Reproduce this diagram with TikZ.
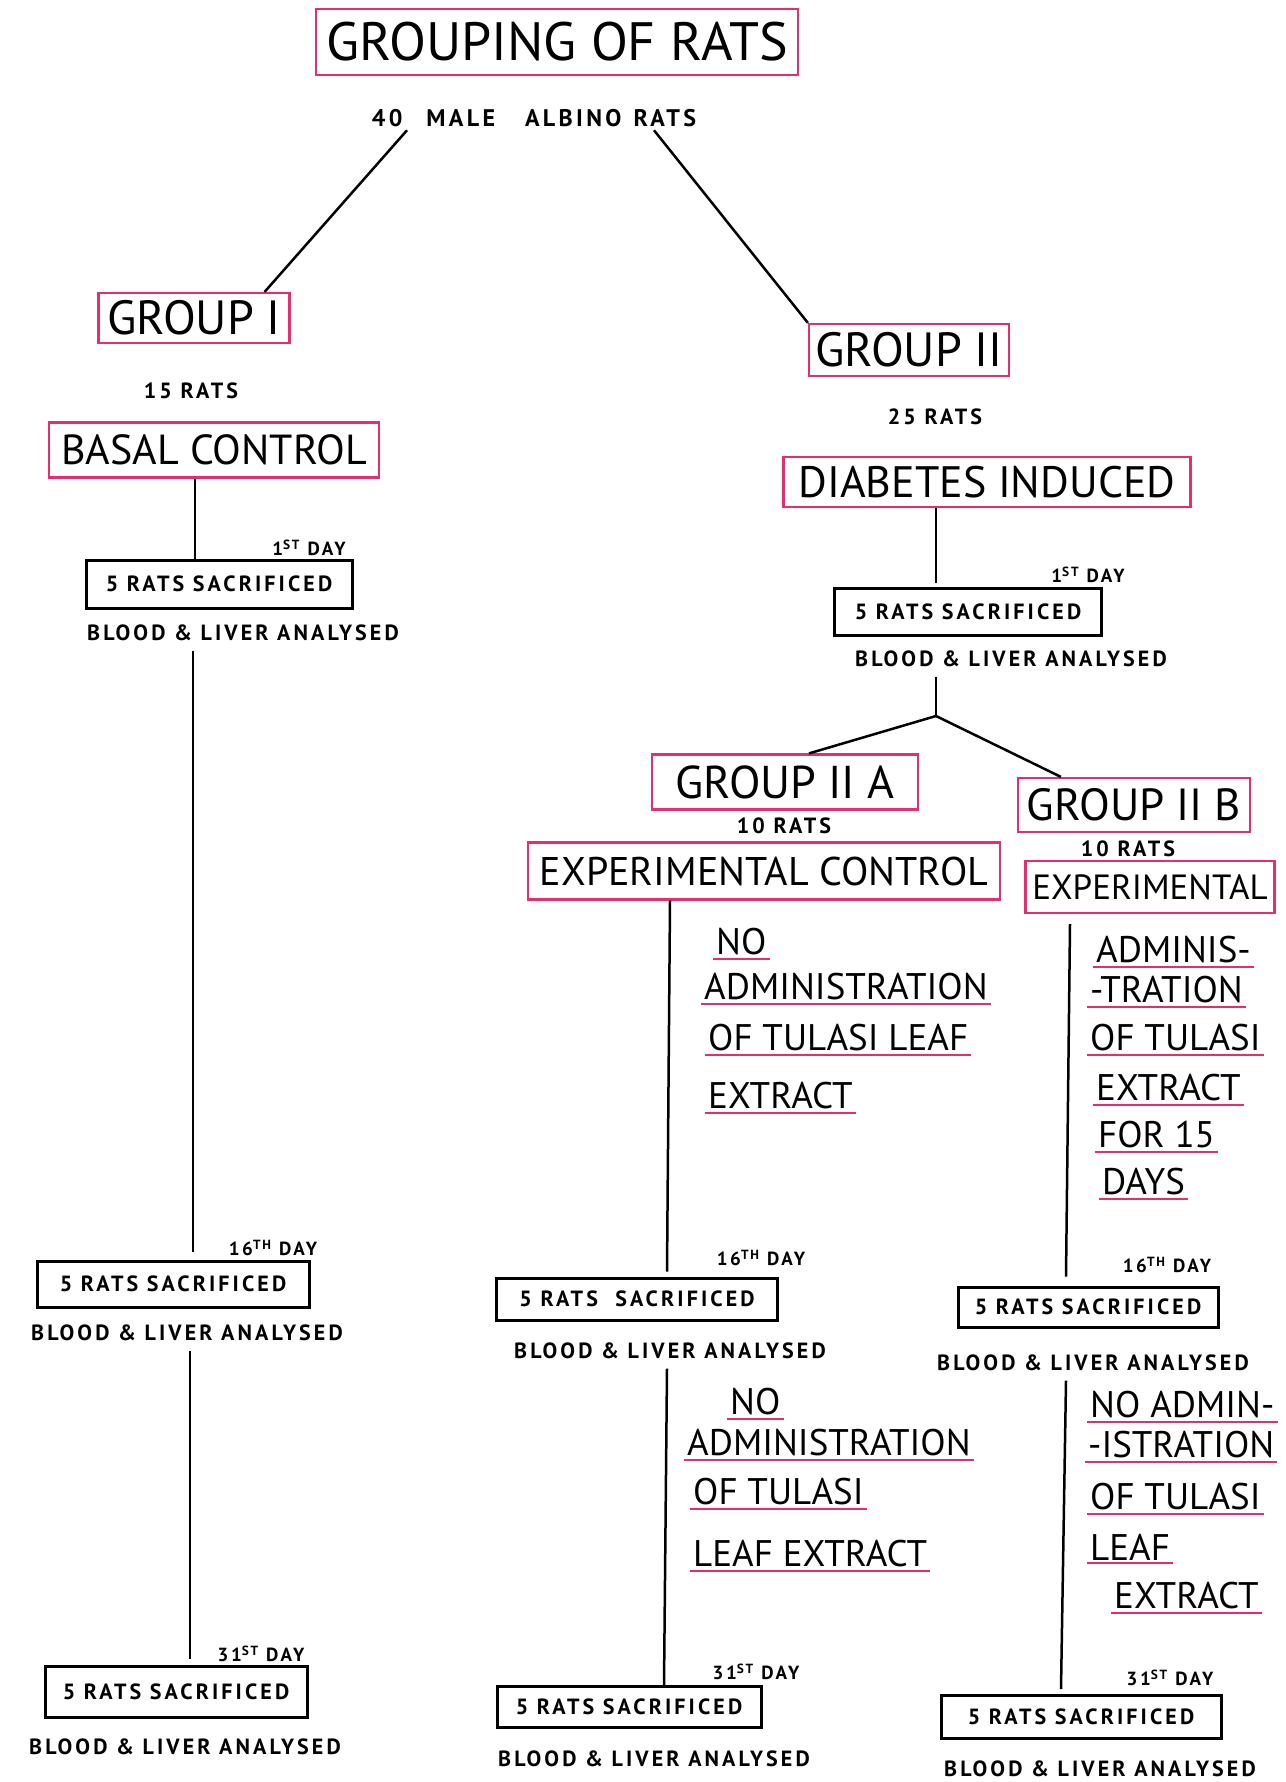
\documentclass[tikz,border=0pt]{standalone}
\usepackage{fontspec}
\setmainfont{PT Sans}
\newfontfamily\markfont{PT Sans}[LetterSpace=14]
\usetikzlibrary{positioning}
\definecolor{rosepink}{RGB}{230,45,110}

\begin{document}
\begin{tikzpicture}[x=1pt, y=-1pt,
    pinkbox/.style={draw=rosepink, line width=2.2pt, inner sep=0pt, font=\fontsize{42}{48}\selectfont},
    ratbox/.style={draw, line width=3pt, inner sep=0pt, font=\markfont\bfseries\fontsize{22}{26}\selectfont},
    note/.style={font=\markfont\bfseries\fontsize{22}{26}\selectfont},
    dayl/.style={font=\markfont\bfseries\fontsize{19}{22}\selectfont},
    uline/.style={anchor=west, inner sep=3pt, font=\fontsize{37}{42}\selectfont,
        append after command={(\tikzlastnode.south west) edge[draw=rosepink, line width=2pt] (\tikzlastnode.south east)}},
    link/.style={line width=2.5pt}]
    \useasboundingbox (0,0) rectangle (1285,1782);

    % Create main nodes
    \node[pinkbox, minimum width=482, minimum height=66, font=\fontsize{54}{60}\selectfont] (title) at (557,42) {GROUPING OF RATS};
    \node[note, font=\markfont\bfseries\fontsize{24}{28}\selectfont] (total) at (534,118) {40\hspace{24pt}MALE\hspace{30pt}ALBINO\hspace{12pt}RATS};

    % Group I
    \node[pinkbox, minimum width=191, minimum height=50, font=\fontsize{48}{54}\selectfont] (grpone) at (194,318) {GROUP I};
    \node[note] (nrone) at (191,391) {15 RATS};
    \node[pinkbox, minimum width=330, minimum height=55] (basal) at (214,450) {BASAL CONTROL};
    \node[dayl] (dayA1) at (309,548) {1\textsuperscript{ST} DAY};
    \node[ratbox, minimum width=266, minimum height=48] (sacA1) at (219,584) {5 RATS SACRIFICED};
    \node[note] (bloodA1) at (243,633) {BLOOD \& LIVER ANALYSED};
    \node[dayl] (dayA2) at (273,1248) {16\textsuperscript{TH} DAY};
    \node[ratbox, minimum width=272, minimum height=46] (sacA2) at (173,1284) {5 RATS SACRIFICED};
    \node[note] (bloodA2) at (187,1333) {BLOOD \& LIVER ANALYSED};
    \node[dayl] (dayA3) at (261,1654) {31\textsuperscript{ST} DAY};
    \node[ratbox, minimum width=262, minimum height=51] (sacA3) at (176,1692) {5 RATS SACRIFICED};
    \node[note] (bloodA3) at (185,1747) {BLOOD \& LIVER ANALYSED};

    % Group II
    \node[pinkbox, minimum width=200, minimum height=52, font=\fontsize{48}{54}\selectfont] (grptwo) at (909,350) {GROUP II};
    \node[note] (nrtwo) at (935,417) {25 RATS};
    \node[pinkbox, minimum width=407, minimum height=50, font=\fontsize{44}{50}\selectfont] (diab) at (987,482) {DIABETES INDUCED};
    \node[dayl] (dayB1) at (1088,575) {1\textsuperscript{ST} DAY};
    \node[ratbox, minimum width=267, minimum height=47] (sacB1) at (968,612) {5 RATS SACRIFICED};
    \node[note] (bloodB1) at (1011,659) {BLOOD \& LIVER ANALYSED};
    \coordinate (split) at (936,716);

    % Group II A
    \node[pinkbox, minimum width=266, minimum height=55, font=\fontsize{46}{52}\selectfont] (grpIIa) at (785,782) {GROUP II A};
    \node[note] (nrIIa) at (784,826) {10 RATS};
    \node[pinkbox, minimum width=472, minimum height=57, font=\fontsize{40}{46}\selectfont] (expctl) at (764,871) {EXPERIMENTAL CONTROL};
    \node[uline] (noC1) at (713,942) {NO};
    \node[uline] (admC1) at (701,987) {ADMINISTRATION};
    \node[uline] (ofC1) at (705,1038) {OF TULASI LEAF};
    \node[uline] (extC1) at (705,1096) {EXTRACT};
    \node[dayl] (dayC1) at (761,1258) {16\textsuperscript{TH} DAY};
    \node[ratbox, minimum width=281, minimum height=42] (sacC1) at (637,1299) {5 RATS \ SACRIFICED};
    \node[note] (bloodC1) at (670,1351) {BLOOD \& LIVER ANALYSED};
    \node[uline] (noC2) at (727,1402) {NO};
    \node[uline] (admC2) at (684,1443) {ADMINISTRATION};
    \node[uline] (ofC2) at (690,1492) {OF TULASI};
    \node[uline] (extC2) at (690,1554) {LEAF EXTRACT};
    \node[dayl] (dayC2) at (756,1672) {31\textsuperscript{ST} DAY};
    \node[ratbox, minimum width=264, minimum height=41] (sacC2) at (629,1707) {5 RATS SACRIFICED};
    \node[note] (bloodC2) at (654,1759) {BLOOD \& LIVER ANALYSED};

    % Group II B
    \node[pinkbox, minimum width=232, minimum height=54, font=\fontsize{45}{50}\selectfont] (grpIIb) at (1134,805) {GROUP II B};
    \node[note] (nrIIb) at (1128,849) {10 RATS};
    \node[pinkbox, minimum width=249, minimum height=52, font=\fontsize{35}{40}\selectfont] (expt) at (1150,887) {EXPERIMENTAL};
    \node[uline] (admD1) at (1093,950) {ADMINIS-};
    \node[uline] (traD1) at (1087,990) {-TRATION};
    \node[uline] (ofD1) at (1087,1038) {OF TULASI};
    \node[uline] (extD1) at (1093,1088) {EXTRACT};
    \node[uline] (forD1) at (1095,1135) {FOR 15};
    \node[uline] (dayD0) at (1099,1182) {DAYS};
    \node[dayl] (dayD1) at (1167,1265) {16\textsuperscript{TH} DAY};
    \node[ratbox, minimum width=260, minimum height=40] (sacD1) at (1088,1307) {5 RATS SACRIFICED};
    \node[note] (bloodD1) at (1093,1363) {BLOOD \& LIVER ANALYSED};
    \node[uline] (noD2) at (1087,1405) {NO ADMIN-};
    \node[uline] (admD2) at (1085,1445) {-ISTRATION};
    \node[uline] (ofD2) at (1087,1497) {OF TULASI};
    \node[uline] (leafD2) at (1087,1547) {LEAF};
    \node[uline] (extD2) at (1111,1596) {EXTRACT};
    \node[dayl] (dayD2) at (1170,1678) {31\textsuperscript{ST} DAY};
    \node[ratbox, minimum width=280, minimum height=43] (sacD2) at (1081,1717) {5 RATS SACRIFICED};
    \node[note] (bloodD2) at (1100,1769) {BLOOD \& LIVER ANALYSED};

    % Connectors
    \draw[link] ([xshift=-127]total.south) -- ([xshift=-26]grpone.north east);
    \draw[link] ([xshift=120]total.south) -- (grptwo.north west);
    \draw[link] ([xshift=-19]basal.south) -- ([xshift=-24]sacA1.north);
    \draw[link] ([xshift=-50,yshift=-6]bloodA1.south) -- ([xshift=20,yshift=8]sacA2.north);
    \draw[link] ([xshift=3,yshift=-6]bloodA2.south) -- ([xshift=14,yshift=6]sacA3.north);
    \draw[link] ([xshift=-51]diab.south) -- ([xshift=-32,yshift=4]sacB1.north);
    \draw[link] ([xshift=-75,yshift=-6]bloodB1.south) -- (split);
    \draw[link] (split) -- ([xshift=24]grpIIa.north);
    \draw[link] (split) -- ([xshift=44]grpIIb.north west);
    \draw[link] ([xshift=-94]expctl.south) -- ([xshift=30,yshift=5]sacC1.north);
    \draw[link] ([xshift=-3,yshift=-6]bloodC1.south) -- ([xshift=35]sacC2.north);
    \draw[link] ([xshift=-80,yshift=-10]expt.south) -- ([xshift=-22,yshift=9]sacD1.north);
    \draw[link] ([xshift=-27,yshift=-6]bloodD1.south) -- ([xshift=-20,yshift=5]sacD2.north);
\end{tikzpicture}
\end{document}
